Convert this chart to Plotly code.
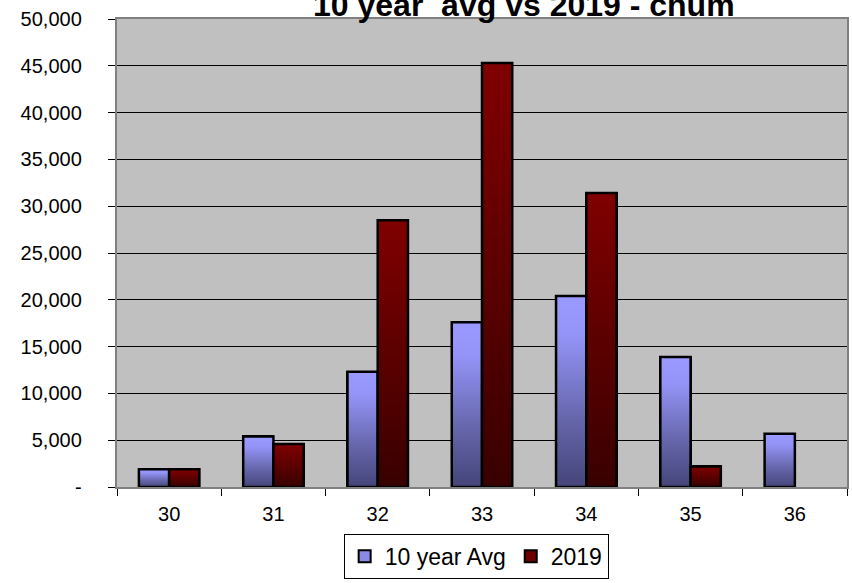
import plotly.graph_objects as go

# Chum counts by statistical week
weeks = ["30", "31", "32", "33", "34", "35", "36"]
avg_10yr = [1900, 5400, 12300, 17600, 20400, 13900, 5700]
y2019 = [1900, 4600, 28500, 45300, 31400, 2200, None]

y_tickvals = [0, 5000, 10000, 15000, 20000, 25000, 30000, 35000, 40000, 45000, 50000]
y_ticktext = ["-", "5,000", "10,000", "15,000", "20,000", "25,000", "30,000",
              "35,000", "40,000", "45,000", "50,000"]

FONT = "Liberation Sans, Arial, sans-serif"
BAR_W = 0.29
LABEL_PAD = "\u00a0" * 4  # keeps the value labels clear of the tick marks

series = [
    dict(name="10 year Avg", values=avg_10yr, offset=-BAR_W, solid="#8A8AE6",
         scale=[[0, "#45457A"], [0.35, "#6565AA"], [0.8, "#9494F8"], [1, "#9999FF"]]),
    dict(name="2019", values=y2019, offset=0.0, solid="#6E0000",
         scale=[[0, "#380000"], [0.5, "#5C0000"], [1, "#800000"]]),
]

xpos = list(range(len(weeks)))
fig = go.Figure()

for s in series:
    fig.add_trace(go.Bar(
        x=xpos, y=s["values"], name=s["name"], width=BAR_W, offset=s["offset"],
        marker=dict(color=s["solid"], line=dict(color="black", width=2)),
    ))

# Vertical gradient fill for each bar, laid over the bar it belongs to
for s in series:
    for xi, v in zip(xpos, s["values"]):
        if not v:
            continue
        x0 = xi + s["offset"]
        x1 = x0 + BAR_W
        fig.add_trace(go.Scatter(
            x=[x0, x1, x1, x0, x0], y=[0, 0, v, v, 0],
            mode="lines", fill="toself",
            fillgradient=dict(type="vertical", colorscale=s["scale"]),
            line=dict(color="black", width=2.5),
            showlegend=False, hoverinfo="skip",
        ))

fig.add_annotation(
    text="<b>10 year  avg vs 2019 - chum</b>",
    xref="paper", yref="paper", x=0.5575, y=1, xanchor="center", yanchor="bottom",
    yshift=-6, showarrow=False, font=dict(family=FONT, size=32, color="black"),
)

fig.update_layout(
    width=852, height=583,
    margin=dict(l=117, r=5, t=19, b=96, autoexpand=False),
    paper_bgcolor="white", plot_bgcolor="#C0C0C0",
    font=dict(family=FONT, color="black"),
    barmode="overlay", bargap=0,
    showlegend=True,
    legend=dict(
        orientation="h", x=0.492, xanchor="center", xref="paper",
        y=-0.100, yanchor="top",
        bgcolor="white", bordercolor="black", borderwidth=1,
        font=dict(family=FONT, size=23, color="black"),
        itemwidth=30,
    ),
)

fig.update_xaxes(
    range=[-0.5, len(weeks) - 0.5],
    tickvals=xpos, ticktext=weeks, ticks="", showgrid=False,
    tickfont=dict(family=FONT, size=20, color="black"),
    ticklabelstandoff=8,
    showline=True, linecolor="#808080", linewidth=2, mirror=True,
    minor=dict(tick0=-0.5, dtick=1, ticks="outside", ticklen=7,
               tickcolor="black", tickwidth=1, showgrid=False),
    zeroline=False, fixedrange=True,
)
fig.update_yaxes(
    range=[0, 50000], tickvals=y_tickvals,
    ticktext=[t + LABEL_PAD for t in y_ticktext],
    ticks="outside", ticklen=7, tickcolor="black", tickwidth=1,
    tickfont=dict(family=FONT, size=20, color="black"),
    showgrid=True, gridcolor="black", gridwidth=1,
    showline=True, linecolor="#808080", linewidth=2, mirror=True,
    zeroline=True, zerolinecolor="black", zerolinewidth=1,
    fixedrange=True,
)

fig.write_html("out.html")
